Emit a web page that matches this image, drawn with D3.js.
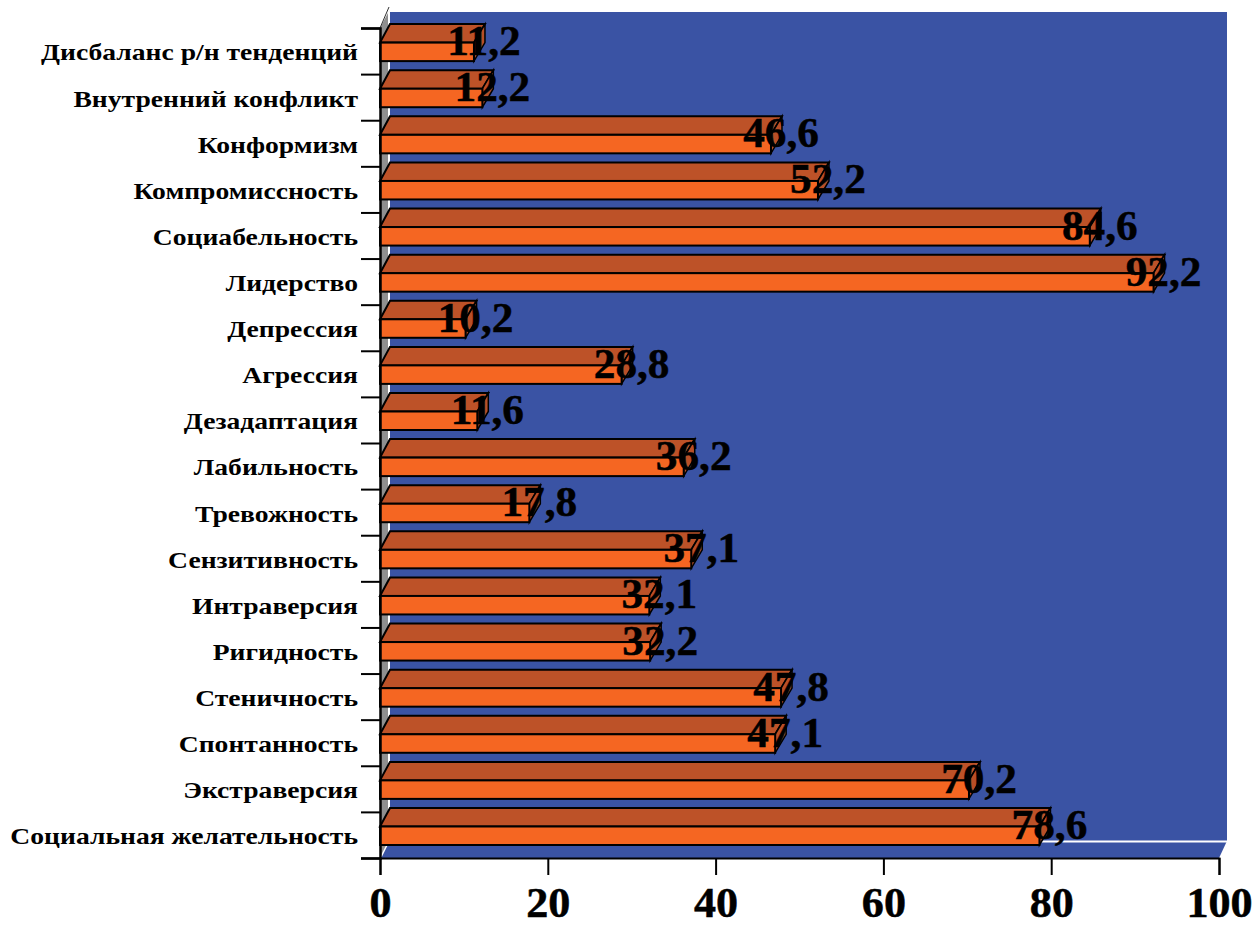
<!DOCTYPE html>
<html><head><meta charset="utf-8">
<script src="https://cdn.jsdelivr.net/npm/d3@7/dist/d3.min.js"></script>
<style>html,body{margin:0;padding:0;background:#fff}svg{display:block}</style>
</head><body><svg id="c" width="1260" height="927"></svg>
<script>
const categories = ["Дисбаланс р/н тенденций","Внутренний конфликт","Конформизм","Компромиссность","Социабельность","Лидерство","Депрессия","Агрессия","Дезадаптация","Лабильность","Тревожность","Сензитивность","Интраверсия","Ригидность","Стеничность","Спонтанность","Экстраверсия","Социальная желательность"];
const values = [11.2,12.2,46.6,52.2,84.6,92.2,10.2,28.8,11.6,36.2,17.8,37.1,32.1,32.2,47.8,47.1,70.2,78.6];
const xTicks = [0,20,40,60,80,100];

const svg = d3.select("#c");
const font = "'Liberation Serif','Times New Roman',serif";
const x = d3.scaleLinear().domain([0,100]).range([380,1219]);
const y = d3.scaleBand().domain(categories).range([28,858]);
const yEdge = d3.scaleLinear().domain([0,categories.length]).range([28,858]);
const dx = 10, dy = 18.5, wx = 9, wy = 17;
const x0 = x(0), x1 = x(100), yT = yEdge(0), yB = yEdge(categories.length);
const poly = pts => pts.map(p => p.join(",")).join(" ");

// walls
svg.append("polygon").attr("points",poly([[x0,yT],[x0+wx,yT-wy],[x0+wx,yB-wy],[x0,yB]])).attr("fill","#8f8f8f");
svg.append("rect").attr("x",x0+wx).attr("y",yT-wy+1).attr("width",x1-x0-1).attr("height",yB-yT).attr("fill","#3a53a4");
svg.append("polygon").attr("points",poly([[x0,yB],[x0+wx,yB-wy],[x1+wx-1,yB-wy],[x1,yB]])).attr("fill","#3a53a4");
svg.append("line").attr("x1",x0+wx).attr("x2",x0+wx).attr("y1",yT-wy).attr("y2",yB-wy).attr("stroke","#fff").attr("stroke-width",2);
svg.append("line").attr("x1",x0+wx).attr("x2",x1+wx-1).attr("y1",yB-wy+.5).attr("y2",yB-wy+.5).attr("stroke","#fff").attr("stroke-width",2);
svg.append("line").attr("x1",x0+1).attr("x2",x0+wx).attr("y1",yB-1).attr("y2",yB-wy).attr("stroke","#fff").attr("stroke-width",1.5);
svg.append("line").attr("x1",x0).attr("x2",x0+wx).attr("y1",yT).attr("y2",yT-21).attr("stroke","#333").attr("stroke-width",1);

// bars
const rows = categories.map((c,i)=>({c,v:values[i]}));
const g = svg.append("g").selectAll("g").data(rows).join("g")
  .attr("stroke","#000").attr("stroke-width",2).attr("stroke-linejoin","miter");
const bot = d => y(d.c)+y.bandwidth()-13;
const h = 18.5;
g.append("polygon").attr("fill","#bd5228")
  .attr("points",d=>poly([[x0,bot(d)-h],[x0+dx,bot(d)-h-dy],[x(d.v)+dx+1,bot(d)-h-dy],[x(d.v),bot(d)-h]]));
g.append("polygon").attr("fill","#b84f27").attr("stroke-width",1.5)
  .attr("points",d=>poly([[x(d.v),bot(d)-h],[x(d.v)+dx+1,bot(d)-h-dy],[x(d.v)+dx+1,bot(d)-dy],[x(d.v),bot(d)]]));
g.append("rect").attr("fill","#f56622")
  .attr("x",x0).attr("y",d=>bot(d)-h).attr("width",d=>x(d.v)-x0).attr("height",h);

// axes
const ax = svg.append("g").attr("transform",`translate(0,${yB})`)
  .call(d3.axisBottom(x).tickValues(xTicks).tickSize(17).tickPadding(12));
ax.select(".domain").attr("stroke","#000").attr("stroke-width",2);
ax.selectAll("line").attr("stroke","#000").attr("stroke-width",2);
ax.selectAll("text").attr("fill","#000").attr("stroke","#000").attr("stroke-width",.5)
  .style("font",`bold 42px ${font}`).attr("transform","scale(1.05,1)");

const ay = svg.append("g").attr("transform",`translate(${x0},0)`)
  .call(d3.axisLeft(yEdge).tickValues(d3.range(categories.length+1)).tickSize(19).tickFormat(""));
ay.select(".domain").attr("stroke","#000").attr("stroke-width",2.5);
ay.selectAll("line").attr("stroke","#000").attr("stroke-width",2);

const al = svg.append("g").attr("transform",`translate(${x0},0)`)
  .call(d3.axisLeft(y).tickSize(0).tickPadding(22));
al.select(".domain").remove();
al.selectAll("text").attr("fill","#000").style("font",`bold 23.5px ${font}`)
  .attr("x",0).attr("dy","0.4em").attr("transform","translate(-22,0) scale(1.175,1)");

// value labels
svg.append("g").selectAll("text").data(rows).join("text")
  .attr("transform",d=>`translate(${x(d.v)+dx},${bot(d)-6}) scale(1.03,1)`)
  .attr("text-anchor","middle").attr("fill","#000").attr("stroke","#000").attr("stroke-width",.5)
  .style("font",`bold 42px ${font}`)
  .text(d=>String(d.v).replace(".",","));
</script></body></html>
